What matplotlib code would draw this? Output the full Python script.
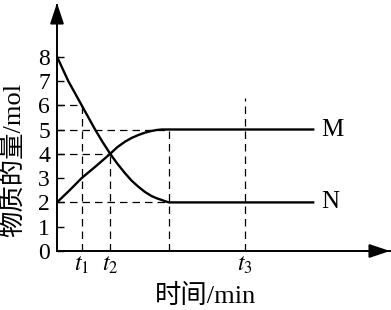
import matplotlib
matplotlib.use("Agg")
import matplotlib.pyplot as plt

# --- Data ---
# time axis in arbitrary units; t_eq is where both curves level off
T1, T2, T_EQ, T3, T_END = 0.88, 1.9, 4.0, 6.7, 9.15

N_t = [0, 0.2, 0.40, 0.64, 0.88, 1.12, 1.36, 1.62, 1.9, 2.15, 2.43,
       2.66, 2.9, 3.14, 3.38, 3.56, 3.74, 3.88, 4.0, 9.15]
N_v = [8, 7.5, 7.0, 6.5, 6.0, 5.5, 5.0, 4.5, 4.0, 3.6, 3.2,
       2.9, 2.65, 2.43, 2.26, 2.17, 2.1, 2.04, 2.0, 2.0]

M_t = [0, 0.45, 0.88, 1.4, 1.9, 2.15, 2.43, 2.66, 2.9, 3.14, 3.38,
       3.56, 3.74, 4.0, 9.15]
M_v = [2, 2.5, 3.0, 3.5, 4.0, 4.27, 4.5, 4.65, 4.77, 4.87, 4.94,
       4.98, 5.0, 5.0, 5.0]

Y_TICKS = [0, 1, 2, 3, 4, 5, 6, 7, 8]
X_TICKS = [T1, T2, T3]
X_TICK_LABELS = ["$t_1$", "$t_2$", "$t_3$"]

# --- Style ---
plt.rcParams['font.family'] = ['Liberation Serif', 'Noto Sans CJK SC']
plt.rcParams['mathtext.fontset'] = 'stix'
plt.rcParams['font.size'] = 14

W, H = 391, 310
fig = plt.figure(figsize=(W / 100, H / 100), dpi=100)
ax = fig.add_axes([57 / W, 59 / H, 333 / W, 246 / H])
ax.set_xlim(0, 333 / 28)
ax.set_ylim(0, 246 / 24.3)

for s in ['top', 'right']:
    ax.spines[s].set_visible(False)
for s in ['left', 'bottom']:
    ax.spines[s].set_linewidth(1.4)
    ax.spines[s].set_color('black')

# --- Curves ---
ax.plot(N_t, N_v, color='black', linewidth=1.7, solid_joinstyle='round')
ax.plot(M_t, M_v, color='black', linewidth=1.7, solid_joinstyle='round')

# --- Guide lines ---
dash = dict(color='black', linewidth=0.9, linestyle=(0, (6, 4)))
ax.plot([0, T1], [6, 6], **dash)
ax.plot([0, T_EQ], [5, 5], **dash)
ax.plot([0, T2], [4, 4], **dash)
ax.plot([0, T_EQ], [2, 2], **dash)
ax.plot([T1, T1], [0, 6], **dash)
ax.plot([T2, T2], [0, 4], **dash)
ax.plot([T_EQ, T_EQ], [0, 5], **dash)
ax.plot([T3, T3], [0, 6.3], **dash)

# --- Ticks ---
ax.set_yticks(Y_TICKS)
ax.set_yticklabels([str(v) for v in Y_TICKS])
ax.tick_params(axis='y', direction='in', length=5, width=1, pad=5, labelsize=17)
ax.set_xticks(X_TICKS)
ax.set_xticklabels(X_TICK_LABELS)
ax.tick_params(axis='x', length=0, pad=3, labelsize=17)

# --- Axis arrows ---
ax.annotate('', xy=(0, 248 / 24.3), xytext=(0, 9.5),
            arrowprops=dict(arrowstyle='-|>,head_length=0.9,head_width=0.3',
                            color='black', lw=1.4, shrinkA=0, shrinkB=0),
            annotation_clip=False)
ax.annotate('', xy=(333 / 28, 0), xytext=(11.0, 0),
            arrowprops=dict(arrowstyle='-|>,head_length=0.9,head_width=0.3',
                            color='black', lw=1.4, shrinkA=0, shrinkB=0),
            annotation_clip=False)

# --- Labels ---
ax.text(T_END + 0.3, 5, "M", fontsize=18, va='center', ha='left')
ax.text(T_END + 0.3, 2, "N", fontsize=18, va='center', ha='left')

fig.text(13 / W, 1 - 160 / H, "物质的量/mol", rotation=90, fontsize=19,
         ha='center', va='center')
fig.text(206 / W, 1 - 296 / H, "时间/min", fontsize=19,
         ha='center', va='center')

fig.savefig("out.png", dpi=100)
